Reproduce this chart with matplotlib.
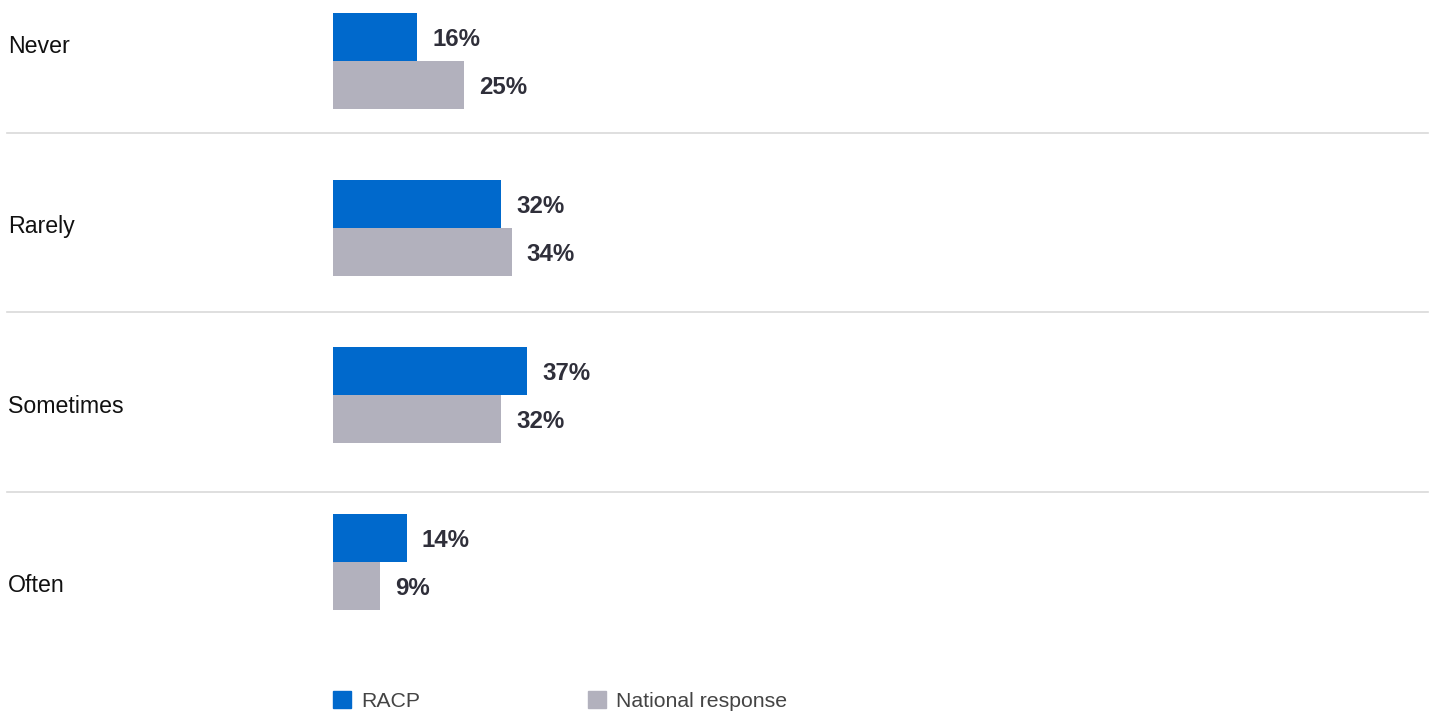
import matplotlib.pyplot as plt
import matplotlib.transforms as transforms
from matplotlib.patches import Patch
import numpy as np

plt.rcParams['font.family'] = ['Liberation Sans', 'DejaVu Sans']

categories = ['Never', 'Rarely', 'Sometimes', 'Often']
racp = [16, 32, 37, 14]
national = [25, 34, 32, 9]
series_names = ['RACP', 'National response']

BLUE = '#0069cc'
GRAY = '#b2b1bd'
TEXT = '#2f2f3a'

fig = plt.figure(figsize=(14.29, 7.11), dpi=100)
ax = fig.add_axes([333 / 1429, 0, 1 - 333 / 1429, 1])

y = np.arange(len(categories))
h = 0.285
ax.barh(y - h / 2, racp, height=h, color=BLUE)
ax.barh(y + h / 2, national, height=h, color=GRAY)

for i in range(len(categories)):
  for val, yy in [(racp[i], y[i] - h / 2), (national[i], y[i] + h / 2)]:
    ax.annotate(f'{val}%', (val, yy), xytext=(10.8, 0), textcoords='offset points',
                va='center_baseline', ha='left', fontsize=17.3, fontweight='bold', color=TEXT)

ax.set_xlim(0, 1096 / 5.25)
ax.set_ylim(3.892, -0.365)
ax.axis('off')

# separators and category labels (x in figure, y in data)
trans = transforms.blended_transform_factory(fig.transFigure, ax.transData)
step = 1.075
first_sep = 0.431
for k, name in enumerate(categories):
  sep = first_sep + k * step
  ax.text(8 / 1429, sep - 0.515, name, transform=trans, ha='left', va='center',
          fontsize=16.7, color='#111111')
  if k < len(categories) - 1:
    ax.plot([7 / 1429, 1428 / 1429], [sep, sep], transform=trans, color='#d9d9d9',
            lw=1.2, clip_on=False)

handles = [Patch(color=BLUE), Patch(color=GRAY)]
fig.legend(handles, series_names, loc='lower left', bbox_to_anchor=(333 / 1429, 0.0),
           ncol=2, frameon=False, fontsize=15.3, handlelength=0.85, handleheight=0.85,
           handletextpad=0.48, columnspacing=7.9, borderpad=0, borderaxespad=0,
           labelcolor='#444444')

fig.savefig('out.png', dpi=100)
